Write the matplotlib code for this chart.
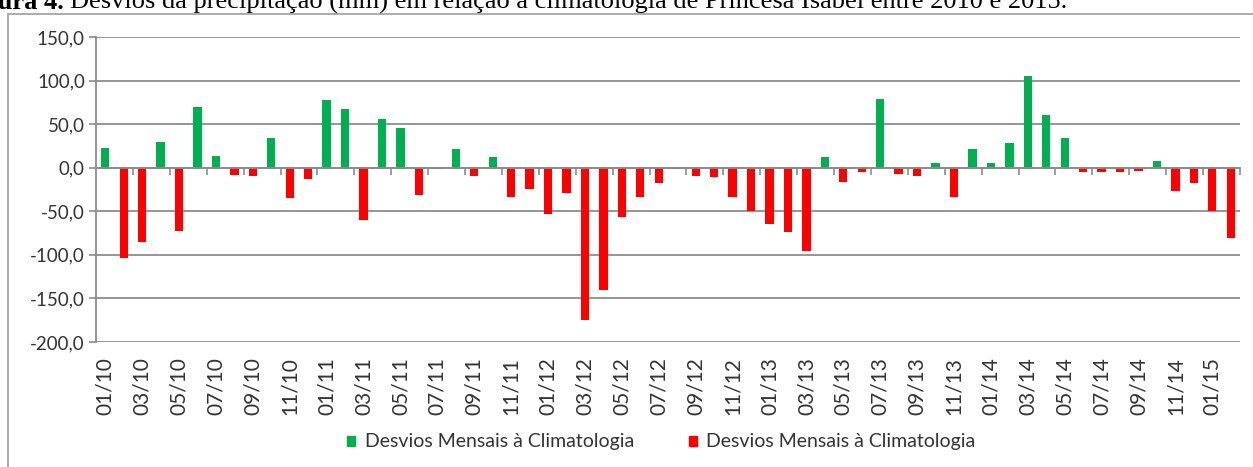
import numpy as np
import matplotlib
matplotlib.use("Agg")
import matplotlib.pyplot as plt
from matplotlib.patches import Patch, Rectangle

# ---- dados: desvios mensais (mm), 01/2010 .. 02/2015 ----
meses = [f"{m:02d}/{a:02d}" for a in range(10, 16) for m in range(1, 13)][:62]
desvios = [
    23, -104, -85, 30, -73, 70, 13, -8, -10, 34, -35, -13,      # 2010
    78, 67, -60, 56, 45, -31, -2, 21, -9, 12, -34, -24,          # 2011
    -53, -29, -175, -140, -57, -34, -18, -2, -9, -11, -34, -50,  # 2012
    -65, -74, -96, 12, -16, -5, 79, -7, -9, 5, -34, 21,          # 2013
    5, 28, 105, 60, 34, -5, -5, -5, -4, 8, -27, -18,             # 2014
    -50, -81,                                                    # 2015
]
serie_nome = "Desvios Mensais à Climatologia"
yticks = [150, 100, 50, 0, -50, -100, -150, -200]

VERDE = "#00B050"
VERMELHO = "#FF0000"
CINZA = "#8C8C8C"
TXT = "#333333"

W, H = 1253, 467
fig = plt.figure(figsize=(W / 100, H / 100), dpi=100)

# moldura do gráfico (continua além da borda direita/inferior)
fig.patches.append(Rectangle((8 / W, -0.1), 1.2, 1 - 14 / H + 0.1,
                             transform=fig.transFigure, fill=False,
                             edgecolor="#A6A6A6", lw=1.3))

ax = fig.add_axes([96 / W, 1 - 342 / H, (1240 - 96) / W, (342 - 37) / H])

x = np.arange(len(desvios))
v = np.array(desvios, dtype=float)
pos = np.where(v > 0, v, 0)
neg = np.where(v < 0, v, 0)
ax.bar(x, pos, width=0.45, color=VERDE, zorder=3)
ax.bar(x, neg, width=0.45, color=VERMELHO, zorder=3)

ax.set_xlim(-0.5, len(desvios) - 0.5)
ax.set_ylim(-200, 150)
ax.set_yticks(yticks)
ax.set_yticklabels([f"{t:.1f}".replace(".", ",") for t in yticks],
                   fontsize=13.5, family="Lato", color=TXT)
ax.yaxis.grid(True, color=CINZA, lw=1.3, zorder=0)
ax.tick_params(axis="y", length=5, width=1.2, color=CINZA, pad=3)

for s in ["top", "right"]:
    ax.spines[s].set_visible(False)
ax.spines["left"].set_color(CINZA)
ax.spines["left"].set_linewidth(1.3)
ax.spines["bottom"].set_position(("data", 0))
ax.spines["bottom"].set_color(CINZA)
ax.spines["bottom"].set_linewidth(1.3)
ax.spines["bottom"].set_zorder(4)

# marcas no eixo zero a cada 2 meses
ax.set_xticks(np.arange(1.5, len(desvios), 2), minor=True)
ax.set_xticks([])
ax.tick_params(axis="x", which="minor", direction="out", length=5,
               width=1.2, color=CINZA)

# rótulos (a cada 2 meses) na base do gráfico
sec = ax.secondary_xaxis(0)
sec.set_xticks(x[::2])
sec.set_xticklabels(meses[::2], rotation=90, fontsize=15, family="Lato",
                    color=TXT)
sec.tick_params(length=0, pad=11)
sec.spines["bottom"].set_visible(False)

# legenda
handles = [Patch(color=VERDE, label=serie_nome),
           Patch(color=VERMELHO, label=serie_nome)]
fig.legend(handles=handles, loc="center left",
           bbox_to_anchor=(347 / W, 1 - 442 / H), borderaxespad=0,
           borderpad=0, ncol=2, frameon=False,
           prop={"family": "Lato", "size": 14},
           handlelength=0.42, handleheight=0.42, handletextpad=0.5,
           columnspacing=2.8, labelcolor=TXT)

# legenda da figura (cortada no topo, como no original)
fig.text(64 / W, 1 - 9 / H, "Figura 4.", ha="right", va="baseline",
         family="Liberation Serif", fontsize=19, weight="bold")
fig.text(70 / W, 1 - 9 / H,
         "Desvios da precipitação (mm) em relação à climatologia de "
         "Princesa Isabel entre 2010 e 2015.",
         ha="left", va="baseline", family="Liberation Serif", fontsize=19)

fig.savefig("out.png", dpi=100)
